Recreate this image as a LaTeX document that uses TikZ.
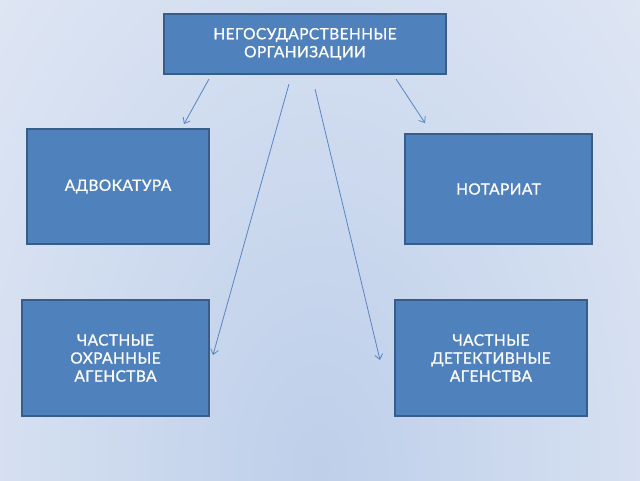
\documentclass[tikz,border=0pt]{standalone}
\usepackage{fontspec}
\newfontfamily\boxfont{Lato}[FakeBold=0.9,LetterSpace=2.5]
\usetikzlibrary{arrows.meta}
\definecolor{boxfill}{RGB}{79,129,189}
\definecolor{boxdraw}{RGB}{56,93,138}
\definecolor{arr}{RGB}{88,133,194}
\definecolor{bgA}{RGB}{228,234,245}
\definecolor{bgB}{RGB}{190,207,234}
\begin{document}
\begin{tikzpicture}[x=1pt,y=-1pt,
  box/.style={draw=boxdraw,line width=1.2pt,fill=boxfill,text=white,
    font=\boxfont\fontsize{15.5}{18}\selectfont,align=center,inner sep=0pt},
  conn/.style={arr,line width=0.8pt,-{Straight Barb[length=5pt,width=8pt]}}]
\useasboundingbox (0,0) rectangle (640,480);
\fill[bgA] (0,0) rectangle (640,480);
\begin{scope}
\clip (0,0) rectangle (640,480);
\shade[inner color=bgB,outer color=bgA] (320,470) ellipse (520 and 820);
\end{scope}
\node[box,minimum width=282pt,minimum height=60pt] (top) at (305,44) {НЕГОСУДАРСТВЕННЫЕ\\ОРГАНИЗАЦИИ};
\node[box,minimum width=182pt,minimum height=115pt] (adv) at (118,186.5) {АДВОКАТУРА};
\node[box,minimum width=187pt,minimum height=110pt] (not) at (498.5,189) {НОТАРИАТ};
\node[box,minimum width=187pt,minimum height=116pt] (ohr) at (115.5,358) {ЧАСТНЫЕ\\ОХРАННЫЕ\\АГЕНСТВА};
\node[box,minimum width=192pt,minimum height=116pt] (det) at (491,358) {ЧАСТНЫЕ\\ДЕТЕКТИВНЫЕ\\АГЕНСТВА};
\coordinate (s1) at (209,79);
\coordinate (e1) at (184,124);
\coordinate (s2) at (396,79);
\coordinate (e2) at (425,123);
\coordinate (s3) at (289,84);
\coordinate (e3) at (213,355);
\coordinate (s4) at (315,89);
\coordinate (e4) at (380,360);
\draw[conn] (s1) -- (e1);
\draw[conn] (s2) -- (e2);
\draw[conn] (s3) -- (e3);
\draw[conn] (s4) -- (e4);
\end{tikzpicture}
\end{document}
